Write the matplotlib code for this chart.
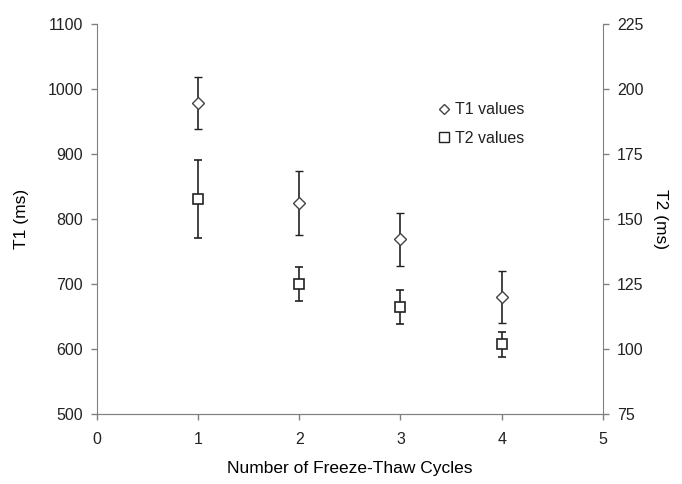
import matplotlib
matplotlib.use("Agg")
import matplotlib.pyplot as plt
from matplotlib.lines import Line2D

plt.rcParams['font.family'] = ['Liberation Sans', 'DejaVu Sans']

# data
cycles = [1, 2, 3, 4]
t1_vals = [978, 825, 769, 680]
t1_err = [40, 49, 41, 40]
t2_vals = [157.8, 125.0, 116.2, 101.7]
t2_err = [15.0, 6.7, 6.5, 4.8]

spine_col = '#808080'
txt_col = '#222222'

fig = plt.figure(figsize=(6.82, 4.84), dpi=100)
ax1 = fig.add_axes([0.142, 0.145, 0.742, 0.805])
ax2 = ax1.twinx()

ax1.errorbar(cycles, t1_vals, yerr=t1_err, fmt='D', mfc='white', mec='#444444',
             mew=1.0, ms=6.5, ecolor='#222222', elinewidth=1.2, capsize=2.8, capthick=1.2)
ax2.errorbar(cycles, t2_vals, yerr=t2_err, fmt='s', mfc='white', mec='#222222',
             mew=1.2, ms=7, ecolor='#222222', elinewidth=1.2, capsize=2.8, capthick=1.2)

ax1.set_xlim(0, 5)
ax1.set_ylim(500, 1100)
ax2.set_ylim(75, 225)
ax1.set_xticks(range(0, 6))
ax1.set_yticks(range(500, 1101, 100))
ax2.set_yticks(range(75, 226, 25))

for ax in (ax1, ax2):
    for s in ax.spines.values():
        s.set_color(spine_col)
    ax.spines['top'].set_visible(False)
    ax.tick_params(colors=spine_col, labelcolor=txt_col, labelsize=11.5,
                   length=4, width=1, pad=6)
ax1.tick_params(axis='x', pad=9)
ax2.spines['left'].set_visible(False)
ax1.spines['right'].set_visible(False)

ax1.set_xlabel('Number of Freeze-Thaw Cycles', fontsize=12.5, labelpad=10, color='black')
ax1.set_ylabel('T1 (ms)', fontsize=12.5, labelpad=13, color='black')
ax2.set_ylabel('T2 (ms)', fontsize=12.5, rotation=270, labelpad=18, color='black')

handles = [
    Line2D([], [], marker='D', ls='none', mfc='white', mec='#444444', ms=5.5),
    Line2D([], [], marker='s', ls='none', mfc='white', mec='#222222', ms=6.5),
]
ax1.legend(handles, ['T1 values', 'T2 values'], loc='upper left',
           bbox_to_anchor=(0.655, 0.82), frameon=False, fontsize=11.5,
           handletextpad=0.2, handlelength=1.0, labelspacing=0.85, borderpad=0,
           labelcolor=txt_col)

fig.savefig('out.png', dpi=100)
